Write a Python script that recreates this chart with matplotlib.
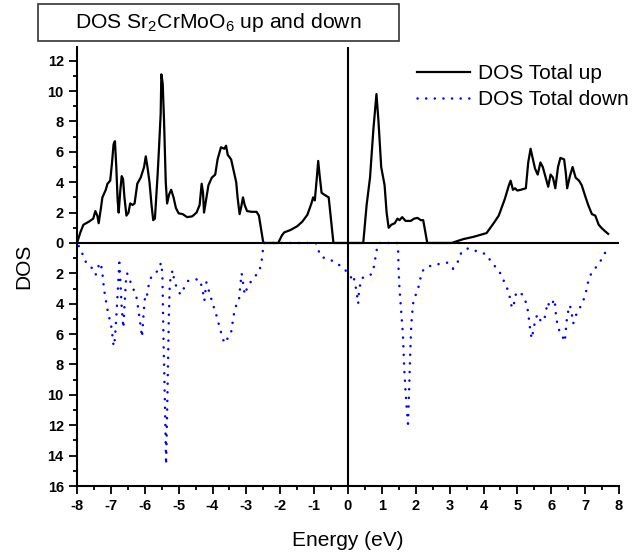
import numpy as np
import matplotlib
matplotlib.use("Agg")
import matplotlib.pyplot as plt
from matplotlib.patches import Rectangle
from matplotlib.ticker import MultipleLocator

plt.rcParams["font.family"] = ["Liberation Sans", "DejaVu Sans"]
plt.rcParams["mathtext.fontset"] = "custom"
plt.rcParams["mathtext.rm"] = "Liberation Sans"

# spin-up total DOS
e_up = [-8.0, -7.9, -7.81, -7.65, -7.52, -7.46, -7.4, -7.36, -7.3, -7.25, -7.15, -7.1,
        -7.02, -6.97, -6.92, -6.88, -6.84, -6.8, -6.77, -6.72, -6.68, -6.64, -6.6, -6.54,
        -6.48, -6.43, -6.36, -6.3, -6.22, -6.12, -6.02, -5.97, -5.92, -5.86, -5.8, -5.75,
        -5.7, -5.62, -5.58, -5.53, -5.51, -5.47, -5.43, -5.38, -5.34, -5.28, -5.22, -5.15,
        -5.08, -5.0, -4.88, -4.75, -4.6, -4.47, -4.38, -4.32, -4.28, -4.25, -4.2, -4.12,
        -4.02, -3.92, -3.85, -3.75, -3.65, -3.6, -3.55, -3.45, -3.38, -3.3, -3.26, -3.2,
        -3.15, -3.1, -3.05, -2.98, -2.85, -2.7, -2.63, -2.5, -2.06, -1.95, -1.88, -1.7,
        -1.5, -1.35, -1.2, -1.08, -1.03, -0.98, -0.92, -0.88, -0.84, -0.78, -0.68, -0.57,
        -0.43, 0.45, 0.55, 0.65, 0.75, 0.84, 0.9, 0.98, 1.08, 1.14, 1.2, 1.28,
        1.38, 1.46, 1.52, 1.6, 1.7, 1.85, 1.95, 2.05, 2.15, 2.22, 2.34, 3.06,
        3.4, 3.7, 4.09, 4.3, 4.45, 4.63, 4.75, 4.8, 4.87, 4.93, 5.0, 5.1,
        5.25, 5.32, 5.39, 5.45, 5.52, 5.6, 5.68, 5.75, 5.85, 5.91, 5.98, 6.05,
        6.12, 6.2, 6.27, 6.38, 6.43, 6.47, 6.55, 6.63, 6.72, 6.82, 6.9, 7.0,
        7.09, 7.2, 7.3, 7.4, 7.5, 7.6, 7.68]
dos_up = [0.0, 0.7, 1.2, 1.4, 1.6, 2.1, 1.8, 1.3, 2.2, 3.0, 3.5, 3.9,
          4.1, 5.2, 6.5, 6.7, 5.0, 2.8, 2.0, 3.5, 4.4, 4.2, 3.0, 1.8,
          2.0, 2.6, 2.5, 2.6, 3.9, 4.3, 5.0, 5.7, 5.0, 4.0, 2.5, 1.5,
          1.6, 4.5, 6.2, 8.5, 11.1, 10.5, 8.0, 4.0, 2.6, 3.2, 3.5, 3.0,
          2.3, 1.95, 1.9, 1.7, 1.75, 2.0, 2.5, 3.9, 3.3, 2.0, 2.7, 3.8,
          4.3, 4.5, 5.5, 6.3, 6.2, 6.4, 5.8, 5.5, 4.8, 4.0, 3.0, 1.9,
          2.4, 3.0, 2.5, 2.1, 2.05, 2.05, 1.8, 0.0, 0.0, 0.5, 0.7, 0.85,
          1.1, 1.4, 1.85, 2.6, 3.0, 2.8, 4.3, 5.4, 4.5, 3.3, 3.15, 3.0,
          0.0, 0.0, 2.5, 4.3, 7.5, 9.8, 8.0, 5.0, 3.8, 2.0, 1.0, 1.2,
          1.3, 1.6, 1.5, 1.7, 1.45, 1.45, 1.6, 1.65, 1.5, 1.5, 0.0, 0.0,
          0.25, 0.4, 0.65, 1.3, 1.8, 2.9, 3.8, 4.1, 3.5, 3.6, 3.45, 3.5,
          3.6, 5.3, 6.2, 5.6, 4.9, 4.5, 5.3, 5.0, 4.2, 3.7, 4.5, 4.3,
          3.6, 5.0, 5.6, 5.5, 4.6, 3.6, 4.4, 5.0, 4.3, 4.1, 3.8, 3.1,
          2.5, 1.9, 1.8, 1.2, 0.95, 0.75, 0.6]

# spin-down total DOS (magnitude, drawn below zero)
e_dn = [-7.95, -7.86, -7.76, -7.6, -7.45, -7.36, -7.3, -7.25, -7.2, -7.1, -6.98, -6.92,
        -6.88, -6.83, -6.78, -6.75, -6.72, -6.68, -6.63, -6.6, -6.55, -6.52, -6.45, -6.38,
        -6.25, -6.18, -6.08, -6.03, -5.98, -5.93, -5.87, -5.8, -5.7, -5.6, -5.52, -5.48,
        -5.45, -5.4, -5.37, -5.33, -5.29, -5.26, -5.18, -5.12, -4.95, -4.85, -4.72, -4.55,
        -4.38, -4.3, -4.24, -4.18, -4.1, -3.98, -3.88, -3.76, -3.68, -3.6, -3.52, -3.44,
        -3.38, -3.3, -3.22, -3.18, -3.14, -3.1, -3.05, -2.95, -2.75, -2.62, -2.55, -2.52,
        -2.48, -0.95, -0.87, -0.8, -0.55, -0.43, -0.16, 0.05, 0.12, 0.16, 0.22, 0.27,
        0.3, 0.33, 0.42, 0.6, 0.72, 0.78, 0.82, 0.86, 0.9, 1.45, 1.48, 1.49,
        1.52, 1.56, 1.62, 1.66, 1.72, 1.77, 1.8, 1.83, 1.87, 1.92, 1.98, 2.05,
        2.12, 2.18, 2.3, 2.45, 2.65, 2.93, 3.1, 3.25, 3.35, 3.55, 3.81, 4.09,
        4.24, 4.45, 4.58, 4.7, 4.78, 4.84, 4.9, 4.93, 5.0, 5.15, 5.27, 5.32,
        5.36, 5.42, 5.48, 5.53, 5.6, 5.7, 5.8, 5.85, 5.9, 5.95, 6.02, 6.1,
        6.14, 6.2, 6.3, 6.4, 6.45, 6.5, 6.55, 6.6, 6.65, 6.72, 6.81, 6.91,
        7.01, 7.07, 7.16, 7.32, 7.48, 7.6]
dos_dn = [0.2, 0.6, 1.2, 1.5, 2.1, 1.5, 1.3, 2.0, 3.1, 4.4, 5.6, 6.8,
          6.3, 4.5, 2.5, 1.3, 2.5, 4.3, 5.6, 4.2, 2.3, 2.0, 2.4, 2.8,
          3.5, 4.5, 6.2, 4.5, 3.3, 3.4, 2.6, 2.2, 2.0, 1.8, 1.3, 2.0,
          6.0, 11.0, 14.6, 10.0, 5.0, 2.6, 1.8, 2.6, 3.4, 3.0, 2.5, 2.4,
          2.4, 3.0, 3.8, 2.6, 3.2, 4.1, 4.8, 5.8, 6.4, 6.6, 6.0, 5.8,
          4.8, 4.1, 3.8, 2.8, 2.0, 2.6, 3.4, 2.8, 2.2, 1.9, 1.2, 0.6,
          0.0, 0.0, 0.5, 0.9, 1.1, 1.2, 1.6, 2.1, 2.4, 2.2, 2.8, 3.5,
          4.0, 3.0, 2.3, 2.2, 2.0, 1.4, 0.8, 0.3, 0.0, 0.0, 0.5, 1.6,
          3.0, 4.2, 6.0, 8.3, 10.5, 11.9, 10.0, 7.7, 5.3, 4.0, 3.5, 3.2,
          2.5, 1.9, 1.6, 1.5, 1.4, 1.3, 1.7, 1.2, 0.6, 0.35, 0.55, 0.75,
          1.3, 1.8, 2.4, 3.0, 3.6, 4.3, 4.0, 3.5, 3.2, 3.4, 4.0, 4.6,
          5.4, 6.3, 5.7, 5.0, 4.7, 5.2, 5.0, 4.4, 3.9, 4.2, 4.0, 3.7,
          4.8, 5.6, 6.0, 6.5, 5.2, 4.5, 4.1, 4.6, 5.3, 4.8, 4.4, 4.0,
          3.4, 2.7, 2.1, 1.6, 1.1, 0.6]

XTICKS = list(range(-8, 9))
YTICKS = list(range(-16, 13, 2))
YTICK_LABELS = [str(abs(v)) for v in YTICKS]
TITLE = "DOS Sr$_{\\mathrm{2}}$CrMoO$_{\\mathrm{6}}$ up and down"

fig = plt.figure(figsize=(6.33, 5.55), dpi=100)
ax = fig.add_axes([77 / 633, 1 - 486 / 555, 542 / 633, 439 / 555])

ax.plot(e_up, dos_up, color="black", lw=1.6, label="DOS Total up", zorder=4)
ax.plot(e_dn, -np.array(dos_dn), color="blue", lw=1.8, ls=(0, (0.05, 3.4)),
        dash_capstyle="round", label="DOS Total down", zorder=2)
# zero lines drawn over the dotted curve, like the original
ax.axhline(0, color="black", lw=1.5, zorder=3)
ax.axvline(0, color="black", lw=1.5, zorder=3)

ax.set_xlim(-8, 8)
ax.set_ylim(-16, 12.9)
ax.set_xticks(XTICKS)
ax.set_xticklabels([str(v) for v in XTICKS])
ax.set_yticks(YTICKS)
ax.set_yticklabels(YTICK_LABELS)
ax.xaxis.set_minor_locator(MultipleLocator(0.5))
ax.yaxis.set_minor_locator(MultipleLocator(1))
ax.tick_params(which="both", direction="out", width=1.3, labelsize=10.5)
ax.tick_params(which="major", length=6)
ax.tick_params(which="minor", length=3)
for lab in ax.get_xticklabels() + ax.get_yticklabels():
    lab.set_fontweight("bold")
for s in ("top", "right"):
    ax.spines[s].set_visible(False)
for s in ("left", "bottom"):
    ax.spines[s].set_linewidth(1.5)

ax.set_xlabel("Energy (eV)", fontsize=15, labelpad=13)
ax.set_ylabel("DOS", fontsize=15, labelpad=10)

ax.legend(loc="upper left", bbox_to_anchor=(0.627, 0.961), frameon=False,
          fontsize=15, handlelength=2.55, handletextpad=0.4, labelspacing=0.34,
          borderpad=0, borderaxespad=0)

# boxed title at top-left
fig.patches.append(Rectangle((38 / 633, 1 - 41 / 555), 361 / 633, 37 / 555,
                             transform=fig.transFigure, fill=False,
                             edgecolor="#333333", lw=1.2))
fig.text(75 / 633, 1 - 22 / 555, TITLE, fontsize=15.2, ha="left", va="center")

fig.savefig("out.png", dpi=100)
